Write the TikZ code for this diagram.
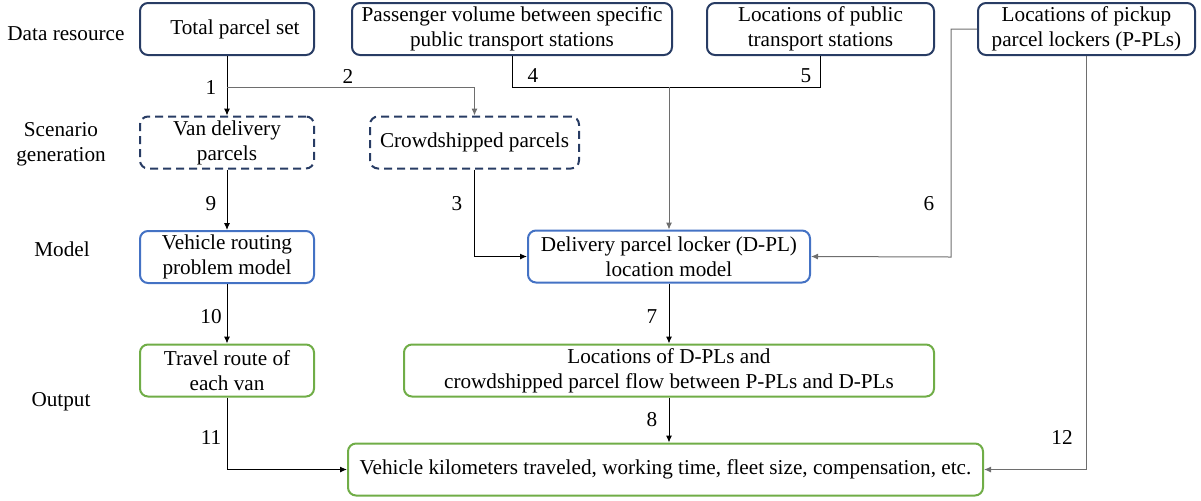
\documentclass[tikz,border=0pt]{standalone}
\usepackage{fontspec}
\setmainfont{Liberation Serif}
\usetikzlibrary{arrows.meta}
\definecolor{navy}{RGB}{40,60,100}
\definecolor{mblue}{RGB}{68,114,196}
\definecolor{mgreen}{RGB}{112,173,71}
\definecolor{lgray}{RGB}{110,110,110}
\newcommand\fs{\fontsize{10.6}{12.5}\selectfont}
\tikzset{
  base/.style={rounded corners=4pt, line width=1pt, align=center, inner sep=0pt, minimum height=26pt, font=\fs, text=black},
  databox/.style={base, draw=navy},
  scenbox/.style={base, draw=navy, dash pattern=on 4pt off 2.5pt},
  modelbox/.style={base, draw=mblue},
  outbox/.style={base, draw=mgreen},
  lbl/.style={font=\fs, align=center, inner sep=0pt},
  num/.style={font=\fs, inner sep=0pt},
  arr/.style={line width=0.5pt, draw=black, -{Latex[length=3.5pt,width=3pt]}},
  arrg/.style={line width=0.5pt, draw=lgray, -{Latex[length=3.5pt,width=3pt]}},
  ln/.style={line width=0.5pt, draw=black},
}
\begin{document}
\begin{tikzpicture}[x=0.5pt,y=-0.5pt]
\path[use as bounding box] (0,0) rectangle (1201,500);
% row labels
\node[lbl] (l1) at (66,34) {Data resource};
\node[lbl] (l2) at (61,144) {Scenario\\generation};
\node[lbl] (l3) at (62,249) {Model};
\node[lbl] (l4) at (61,402) {Output};
% boxes
\node[databox, minimum width=87pt] (tps) at (227,29) {\hspace*{8pt}Total parcel set};
\node[databox, minimum width=160pt] (pv) at (512,29) {Passenger volume between specific\\public transport stations};
\node[databox, minimum width=113.5pt] (lpt) at (820.5,29) {Locations of public\\transport stations};
\node[databox, minimum width=108.5pt] (lpk) at (1086.5,29) {Locations of pickup\\parcel lockers (P-PLs)};
\node[scenbox, minimum width=87pt] (van) at (227,142.5) {Van delivery\\parcels};
\node[scenbox, minimum width=104.5pt] (crowd) at (474.5,142.5) {Crowdshipped parcels};
\node[modelbox, minimum width=87pt] (vrp) at (227,257) {Vehicle routing\\problem model};
\node[modelbox, minimum width=141pt] (dpl) at (669,256.5) {Delivery parcel locker (D-PL)\\location model};
\node[outbox, minimum width=87pt] (trv) at (227,370.5) {Travel route of\\each van};
\node[outbox, minimum width=265pt] (ldpl) at (669,370.5) {Locations of D-PLs and\\crowdshipped parcel flow between P-PLs and D-PLs};
\node[outbox, minimum width=317.5pt] (vkm) at (665.5,469.5) {Vehicle kilometers traveled, working time, fleet size, compensation, etc.};
% junction coordinates
\coordinate (j2) at (227,87);
\coordinate (jm) at (669,87);
\coordinate (c6) at (951,257);
% connectors
\draw[arr] (tps.south) -- (van.north);
\draw[arrg] (j2) -| (crowd.north);
\draw[ln] (pv.south) -- (pv.south |- jm) -- (lpt.south |- jm) -- (lpt.south);
\draw[arrg] (jm) -- (dpl.north);
\draw[arr] (crowd.south) |- (dpl.west);
\draw[arrg] (lpk.west) -| (c6) -- (dpl.east);
\draw[arrg] (lpk.south) |- (vkm.east);
\draw[arr] (van.south) -- (vrp.north);
\draw[arr] (vrp.south) -- (trv.north);
\draw[arr] (trv.south) |- (vkm.west);
\draw[arr] (dpl.south) -- (ldpl.north);
\draw[arr] (ldpl.south) -- (ldpl.south |- vkm.north);
% numbers
\node[num] (n1) at (211,87) {1};
\node[num] (n2) at (348,76) {2};
\node[num] (n3) at (457,204) {3};
\node[num] (n4) at (533,76) {4};
\node[num] (n5) at (806,76) {5};
\node[num] (n6) at (929,204) {6};
\node[num] (n7) at (652,317) {7};
\node[num] (n8) at (652,420) {8};
\node[num] (n9) at (211,204) {9};
\node[num] (n10) at (211,317) {10};
\node[num] (n11) at (211,437) {11};
\node[num] (n12) at (1062,437) {12};
\end{tikzpicture}
\end{document}
